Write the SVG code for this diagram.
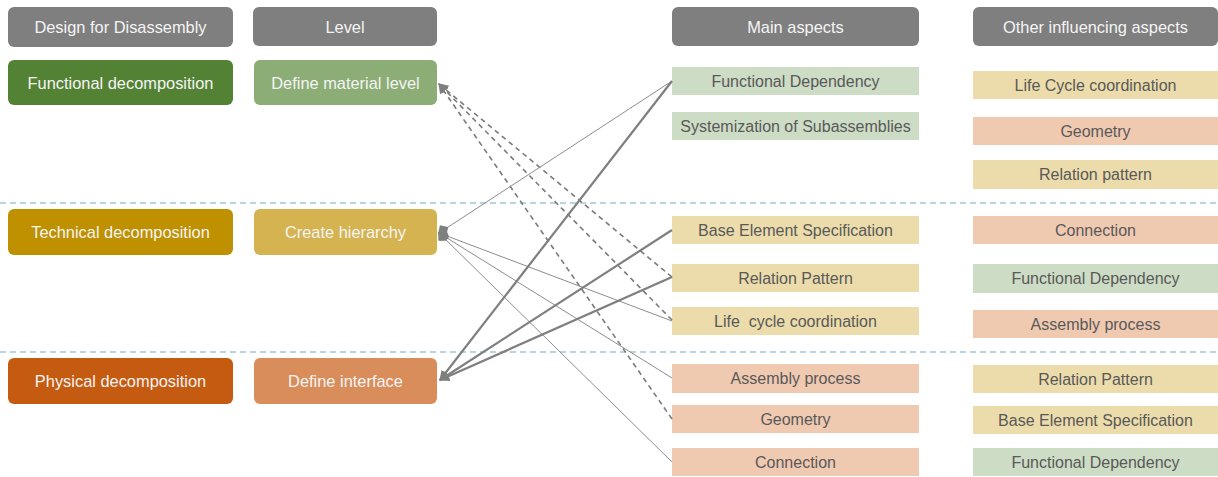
<svg xmlns="http://www.w3.org/2000/svg" width="1218" height="477" viewBox="0 0 1218 477">
  <style>
    .hdr { fill: #7f7f7f; }
    .lbl { font-family: "Liberation Sans", Arial, sans-serif; font-size: 16.4px; text-anchor: middle; dominant-baseline: central; }
    .light { fill: #f4f4f4; }
    .dark { fill: #595959; font-size: 16px; }
    .g { fill: #cddcc5; }
    .y { fill: #ecdcab; }
    .s { fill: #f0c9b1; }
    .sep { stroke: #72a9ba; stroke-width: 1.2; stroke-dasharray: 6 4; fill: none; }
    .dash { stroke: #7a7a7a; stroke-width: 1.6; stroke-dasharray: 5 4; fill: none; }
    .thick { stroke: #7f7f7f; stroke-width: 2.2; fill: none; }
    .thin { stroke: #8c8c8c; stroke-width: 1; fill: none; }
  </style>
  <defs>
    <marker id="arrow" viewBox="0 0 10 10" refX="9" refY="5" markerWidth="10" markerHeight="10" markerUnits="userSpaceOnUse" orient="auto">
      <path d="M0,0 L10,5 L0,10 z" fill="#7f7f7f"/>
    </marker>
    <marker id="diamond" viewBox="0 0 12 12" refX="1" refY="6" markerWidth="12" markerHeight="12" markerUnits="userSpaceOnUse" orient="auto">
      <path d="M0,6 L6,0 L12,6 L6,12 z" fill="#7f7f7f"/>
    </marker>
  </defs>

  <rect width="1218" height="477" fill="#ffffff"/>

  <!-- layer separators -->
  <g id="separators">
    <line class="sep" x1="0" y1="203" x2="1218" y2="203"/>
    <line class="sep" x1="0" y1="352" x2="1218" y2="352"/>
  </g>

  <!-- column headers -->
  <g id="hdr-dfd"><rect class="hdr" x="8" y="7" width="225" height="40" rx="6"/><text class="lbl light" x="120.5" y="27">Design for Disassembly</text></g>
  <g id="hdr-level"><rect class="hdr" x="253" y="7" width="184" height="39" rx="6"/><text class="lbl light" x="345" y="27">Level</text></g>
  <g id="hdr-main"><rect class="hdr" x="672" y="7" width="247" height="39" rx="6"/><text class="lbl light" x="795.5" y="27">Main aspects</text></g>
  <g id="hdr-other"><rect class="hdr" x="973" y="7" width="245" height="39" rx="6"/><text class="lbl light" x="1095.5" y="27">Other influencing aspects</text></g>

  <!-- decomposition column -->
  <g id="functional-decomposition"><rect x="8" y="60" width="225" height="45" rx="6" fill="#548235"/><text class="lbl light" x="120.5" y="82.5">Functional decomposition</text></g>
  <g id="technical-decomposition"><rect x="8" y="209" width="225" height="46" rx="6" fill="#bf9000"/><text class="lbl light" x="120.5" y="232">Technical decomposition</text></g>
  <g id="physical-decomposition"><rect x="8" y="358" width="225" height="46" rx="6" fill="#c55a11"/><text class="lbl light" x="120.5" y="381">Physical decomposition</text></g>

  <!-- level column -->
  <g id="define-material-level"><rect x="254" y="60" width="183" height="45" rx="6" fill="#8cad76"/><text class="lbl light" x="345.5" y="82.5">Define material level</text></g>
  <g id="create-hierarchy"><rect x="254" y="209" width="183" height="46" rx="6" fill="#d5b350"/><text class="lbl light" x="345.5" y="232">Create hierarchy</text></g>
  <g id="define-interface"><rect x="254" y="358" width="183" height="46" rx="6" fill="#d98d5b"/><text class="lbl light" x="345.5" y="381">Define interface</text></g>

  <!-- main aspects -->
  <g id="m-functional-dependency"><rect class="g" x="672" y="67" width="247" height="28"/><text class="lbl dark" x="795.5" y="81">Functional Dependency</text></g>
  <g id="m-systemization"><rect class="g" x="672" y="112" width="247" height="28"/><text class="lbl dark" x="795.5" y="126">Systemization of Subassemblies</text></g>
  <g id="m-base-element"><rect class="y" x="672" y="216" width="247" height="28"/><text class="lbl dark" x="795.5" y="230">Base Element Specification</text></g>
  <g id="m-relation-pattern"><rect class="y" x="672" y="264" width="247" height="28"/><text class="lbl dark" x="795.5" y="278">Relation Pattern</text></g>
  <g id="m-life-cycle"><rect class="y" x="672" y="307" width="247" height="28"/><text class="lbl dark" x="795.5" y="321" xml:space="preserve">Life  cycle coordination</text></g>
  <g id="m-assembly-process"><rect class="s" x="672" y="364" width="247" height="29"/><text class="lbl dark" x="795.5" y="378.5">Assembly process</text></g>
  <g id="m-geometry"><rect class="s" x="672" y="405" width="247" height="28"/><text class="lbl dark" x="795.5" y="419">Geometry</text></g>
  <g id="m-connection"><rect class="s" x="672" y="448" width="247" height="28"/><text class="lbl dark" x="795.5" y="462">Connection</text></g>

  <!-- other influencing aspects -->
  <g id="o-life-cycle"><rect class="y" x="973" y="71" width="245" height="28"/><text class="lbl dark" x="1095.5" y="85">Life Cycle coordination</text></g>
  <g id="o-geometry"><rect class="s" x="973" y="117" width="245" height="28"/><text class="lbl dark" x="1095.5" y="131">Geometry</text></g>
  <g id="o-relation-pattern-1"><rect class="y" x="973" y="160" width="245" height="29"/><text class="lbl dark" x="1095.5" y="174.5">Relation pattern</text></g>
  <g id="o-connection"><rect class="s" x="973" y="216" width="245" height="28"/><text class="lbl dark" x="1095.5" y="230">Connection</text></g>
  <g id="o-functional-dependency-1"><rect class="g" x="973" y="264" width="245" height="29"/><text class="lbl dark" x="1095.5" y="278.5">Functional Dependency</text></g>
  <g id="o-assembly-process"><rect class="s" x="973" y="310" width="245" height="28"/><text class="lbl dark" x="1095.5" y="324">Assembly process</text></g>
  <g id="o-relation-pattern-2"><rect class="y" x="973" y="365" width="245" height="28"/><text class="lbl dark" x="1095.5" y="379">Relation Pattern</text></g>
  <g id="o-base-element"><rect class="y" x="973" y="406" width="245" height="28"/><text class="lbl dark" x="1095.5" y="420">Base Element Specification</text></g>
  <g id="o-functional-dependency-2"><rect class="g" x="973" y="448" width="245" height="28"/><text class="lbl dark" x="1095.5" y="462">Functional Dependency</text></g>

  <!-- connectors -->
  <g id="connectors">
    <!-- material level -->
    <line class="dash" x1="672" y1="277" x2="439" y2="84" marker-end="url(#arrow)"/>
    <line class="dash" x1="672" y1="320" x2="439" y2="84" marker-end="url(#arrow)"/>
    <line class="dash" x1="672" y1="419" x2="439" y2="84" marker-end="url(#arrow)"/>
    <!-- hierarchy -->
    <line class="thin" x1="439" y1="233" x2="672" y2="81" stroke="#a6a6a6" marker-start="url(#diamond)"/>
    <line class="thin" x1="439" y1="233" x2="672" y2="321" marker-start="url(#diamond)"/>
    <line class="thin" x1="439" y1="233" x2="672" y2="378" marker-start="url(#diamond)"/>
    <line class="thin" x1="439" y1="233" x2="672" y2="462" marker-start="url(#diamond)"/>
    <!-- interface -->
    <line class="thick" x1="672" y1="81" x2="440" y2="380" marker-end="url(#arrow)"/>
    <line class="thick" x1="672" y1="230" x2="440" y2="380" marker-end="url(#arrow)"/>
    <line class="thick" x1="672" y1="277" x2="440" y2="380" marker-end="url(#arrow)"/>
  </g>
</svg>
